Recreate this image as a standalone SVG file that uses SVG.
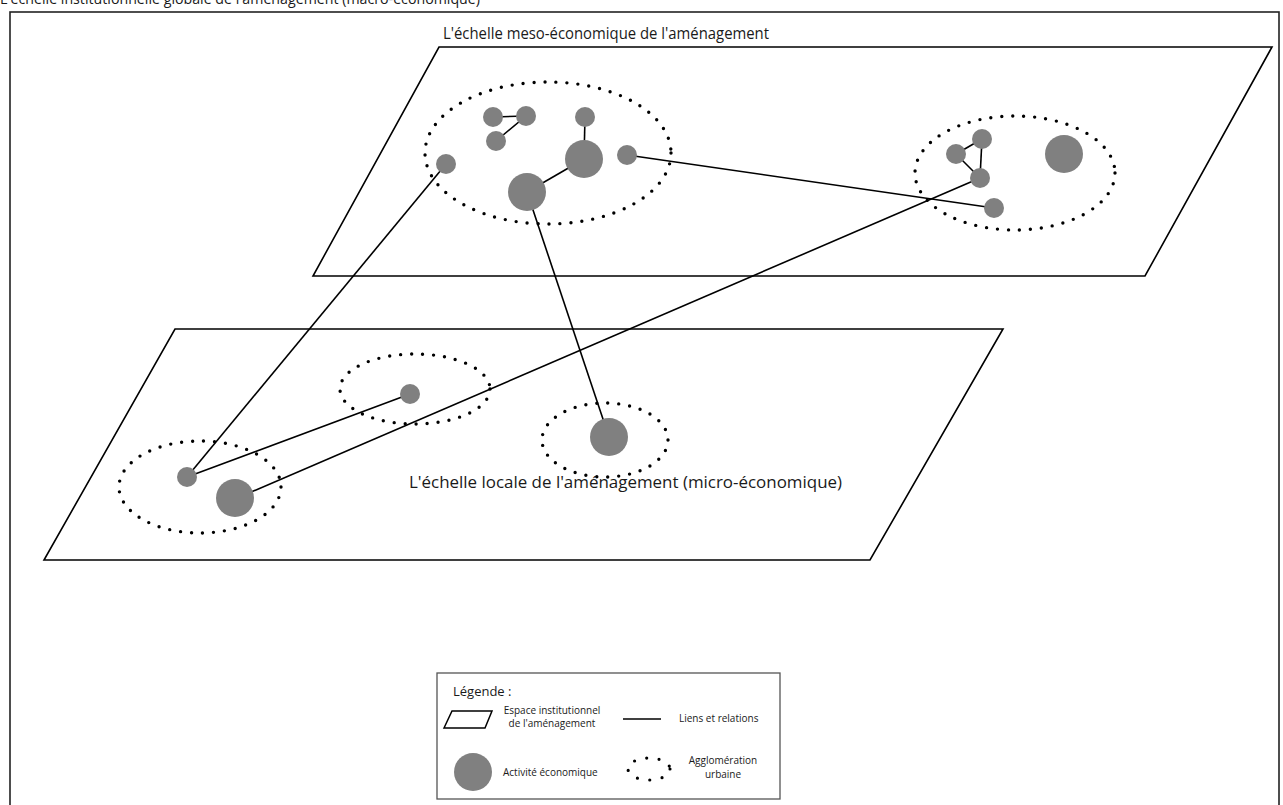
<svg xmlns="http://www.w3.org/2000/svg" width="1283" height="805" viewBox="0 0 1283 805">
<style>
text{font-family:"Open Sans","Noto Sans","Liberation Sans",sans-serif;fill:#1a1a1a}
.plane{fill:none;stroke:#000;stroke-width:1.6}
.agg{fill:none;stroke:#000;stroke-width:3.4;stroke-linecap:round;stroke-dasharray:0 11}
.act{fill:#808080}
.link{stroke:#000;stroke-width:1.6;fill:none}
</style>
<rect width="1283" height="805" fill="#fff"/>
<rect x="10" y="12" width="1269" height="820" fill="none" stroke="#222" stroke-width="1.6"/>
<text x="0" y="4" font-size="14.5" textLength="480" lengthAdjust="spacingAndGlyphs">L'échelle institutionnelle globale de l'aménagement (macro-économique)</text>

<g id="plane-meso">
<polygon class="plane" points="439,47 1272,47 1145,276 313,276"/>
<text x="443" y="39" font-size="16" textLength="326" lengthAdjust="spacingAndGlyphs">L'échelle meso-économique de l'aménagement</text>
</g>
<g id="plane-local">
<polygon class="plane" points="175,329 1003,329 870,560 44,560"/>
<text x="409" y="488" font-size="16" textLength="433" lengthAdjust="spacingAndGlyphs">L'échelle locale de l'aménagement (micro-économique)</text>
</g>

<g id="agglomerations">
<ellipse id="agg-meso-1" class="agg" cx="548" cy="153" rx="123" ry="71"/>
<ellipse id="agg-meso-2" class="agg" cx="1015" cy="173" rx="100" ry="57"/>
<ellipse id="agg-local-1" class="agg" cx="200" cy="487" rx="81" ry="46"/>
<ellipse id="agg-local-2" class="agg" cx="415" cy="389" rx="75" ry="35"/>
<ellipse id="agg-local-3" class="agg" cx="605" cy="440" rx="63" ry="37"/>
</g>

<g id="connectors">
<line class="link" x1="493" y1="117" x2="526" y2="116"/>
<line class="link" x1="526" y1="116" x2="496" y2="141"/>
<line class="link" x1="585" y1="117" x2="584" y2="159"/>
<line class="link" x1="584" y1="159" x2="527" y2="192"/>
<line class="link" x1="627" y1="155" x2="994" y2="208"/>
<line class="link" x1="446" y1="164" x2="187" y2="477"/>
<line class="link" x1="527" y1="192" x2="609" y2="437"/>
<line class="link" x1="982" y1="139" x2="956" y2="154"/>
<line class="link" x1="956" y1="154" x2="980" y2="178"/>
<line class="link" x1="982" y1="139" x2="980" y2="178"/>
<line class="link" x1="980" y1="178" x2="235" y2="499"/>
<line class="link" x1="187" y1="477" x2="410" y2="394"/>
</g>

<g id="activities">
<circle id="a1" class="act" cx="493" cy="117" r="10"/>
<circle id="a2" class="act" cx="526" cy="116" r="10"/>
<circle id="a3" class="act" cx="496" cy="141" r="10"/>
<circle id="a4" class="act" cx="585" cy="117" r="10"/>
<circle id="a5" class="act" cx="584" cy="159" r="19"/>
<circle id="a6" class="act" cx="527" cy="192" r="19"/>
<circle id="a7" class="act" cx="627" cy="155" r="10"/>
<circle id="a8" class="act" cx="446" cy="164" r="10"/>
<circle id="b1" class="act" cx="982" cy="139" r="10"/>
<circle id="b2" class="act" cx="956" cy="154" r="10"/>
<circle id="b3" class="act" cx="980" cy="178" r="10"/>
<circle id="b4" class="act" cx="994" cy="208" r="10"/>
<circle id="b5" class="act" cx="1064" cy="154" r="19"/>
<circle id="c1" class="act" cx="187" cy="477" r="10"/>
<circle id="c2" class="act" cx="235" cy="498" r="19"/>
<circle id="c3" class="act" cx="410" cy="394" r="10"/>
<circle id="c4" class="act" cx="609" cy="437" r="19"/>
</g>

<g id="legend">
<rect x="437" y="673" width="343" height="126" fill="#fff" stroke="#555" stroke-width="1.3"/>
<text x="453" y="696" font-size="13">Légende :</text>
<polygon points="444,728 452,711 492,711 485,728" fill="none" stroke="#000" stroke-width="1.5"/>
<text x="552" y="714" font-size="10" text-anchor="middle">Espace institutionnel</text>
<text x="552" y="727" font-size="10" text-anchor="middle">de l'aménagement</text>
<line x1="623" y1="719" x2="661" y2="719" stroke="#000" stroke-width="1.6"/>
<text x="679" y="722" font-size="10">Liens et relations</text>
<circle cx="473" cy="772" r="19" fill="#808080"/>
<text x="503" y="776" font-size="10">Activité économique</text>
<ellipse cx="649" cy="769" rx="21" ry="11" fill="none" stroke="#000" stroke-width="3.2" stroke-linecap="round" stroke-dasharray="0 12.4"/>
<text x="723" y="764" font-size="10" text-anchor="middle">Agglomération</text>
<text x="723" y="778" font-size="10" text-anchor="middle">urbaine</text>
</g>
</svg>
